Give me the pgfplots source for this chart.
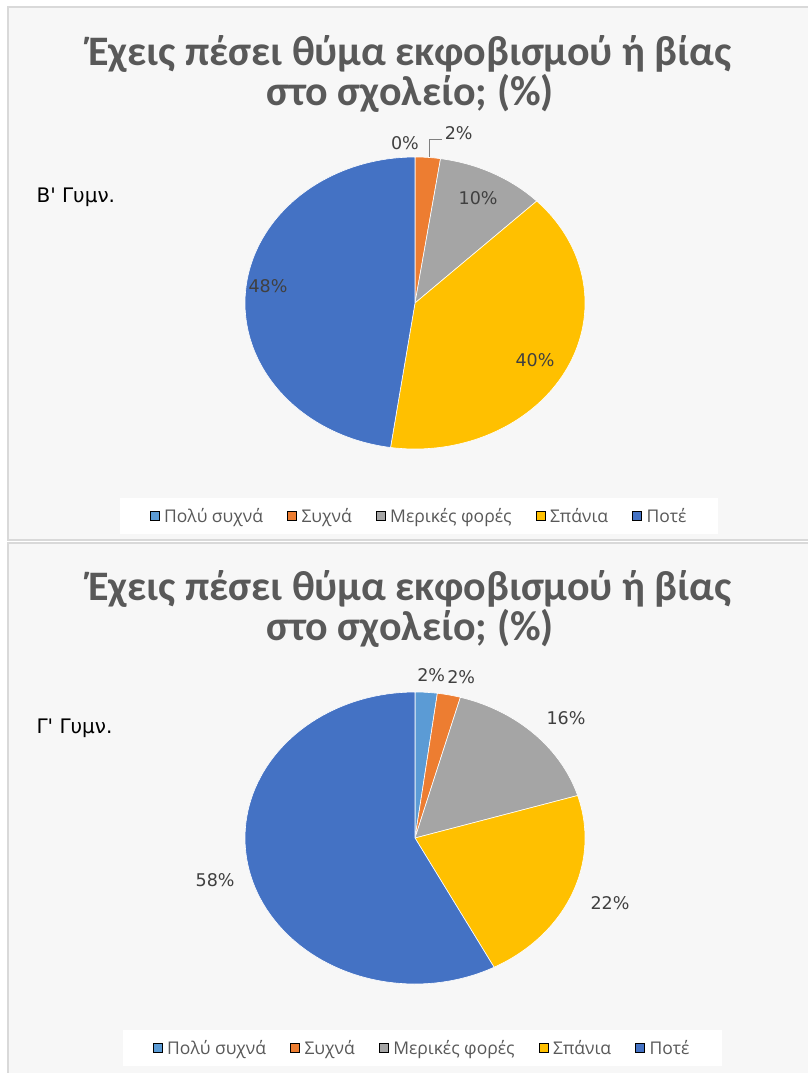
\documentclass[border=0pt]{standalone}
\usepackage{fontspec}
\setmainfont{Carlito}
\newfontfamily\lblfont{DejaVu Sans}
\newfontfamily\legfont{Open Sans}
\usepackage{pgfplots}
\pgfplotsset{compat=1.18}
\definecolor{c1}{HTML}{5B9BD5}
\definecolor{c2}{HTML}{ED7D31}
\definecolor{c3}{HTML}{A5A5A5}
\definecolor{c4}{HTML}{FFC000}
\definecolor{c5}{HTML}{4472C4}
\definecolor{tgray}{HTML}{595959}
\definecolor{lgray}{HTML}{404040}
\definecolor{bord}{HTML}{D9D9D9}
\definecolor{bg}{HTML}{F7F7F7}
% slice: start percent, end percent (cumulative), colour
\newcommand{\slice}[3]{%
  \addplot[forget plot, fill=#3, draw=white, line width=0.6pt,
    domain={3.6*#1}:{3.6*#2}, samples=90]
    ({sin(x)},{cos(x)}) -- (axis cs:0,0) -- cycle;}
\pgfplotsset{
  pieaxis/.style={
    scale only axis, width=340pt, height=292pt,
    xmin=-1, xmax=1, ymin=-1, ymax=1, hide axis, clip=false,
    anchor=center,
    legend columns=5,
    legend image code/.code={\fill[##1] (0pt,-4.5pt) rectangle (9pt,4.5pt);},
    legend style={draw=none, fill=white, anchor=center,
      font=\legfont\fontsize{17.5}{19}\selectfont, text=tgray,
      inner xsep=30pt, inner ysep=8pt,
      nodes={inner xsep=2pt},
      /tikz/every odd column/.append style={column sep=3pt},
      /tikz/every even column/.append style={column sep=22pt}},
  },
}
\tikzset{lbl/.style={font=\lblfont\fontsize{17.5}{20}\selectfont, text=lgray}}
\begin{document}
\begin{tikzpicture}
\useasboundingbox (0,0) rectangle (808pt,-1073pt);
\fill[white] (0,0) rectangle (808pt,-1073pt);
\draw[bord, line width=2pt, fill=bg] (8pt,-7pt) rectangle (830pt,-540pt);
\draw[bord, line width=2pt, fill=bg] (8pt,-543pt) rectangle (830pt,-1090pt);
% titles
\node[font=\bfseries\fontsize{42}{38}\selectfont, text=tgray, align=center]
  at (410pt,-74pt) {Έχεις πέσει θύμα εκφοβισμού ή βίας\\στο σχολείο; (\%)};
\node[font=\bfseries\fontsize{42}{38}\selectfont, text=tgray, align=center]
  at (410pt,-609pt) {Έχεις πέσει θύμα εκφοβισμού ή βίας\\στο σχολείο; (\%)};
\node[font=\lblfont\fontsize{20}{22}\selectfont, text=black, anchor=west]
  at (33pt,-197pt) {Β' Γυμν.};
\node[font=\lblfont\fontsize{20}{22}\selectfont, text=black, anchor=west]
  at (33pt,-728pt) {Γ' Γυμν.};
% ---------- B' Gymn.  values: 0, 2.4, 10.3, 39.6, 47.7
\begin{axis}[pieaxis, at={(415pt,-303pt)},
  legend style={at={(0.512,-0.230)}}]
  \slice{0}{2.4}{c2}
  \slice{2.4}{12.7}{c3}
  \slice{12.7}{52.3}{c4}
  \slice{52.3}{100}{c5}
  \addlegendimage{fill=c1}\addlegendentry{Πολύ συχνά}
  \addlegendimage{fill=c2}\addlegendentry{Συχνά}
  \addlegendimage{fill=c3}\addlegendentry{Μερικές φορές}
  \addlegendimage{fill=c4}\addlegendentry{Σπάνια}
  \addlegendimage{fill=c5}\addlegendentry{Ποτέ}
  \draw[gray, line width=0.6pt] (axis cs:0.159,1.123) -- (axis cs:0.082,1.123) -- (axis cs:0.082,1.0);
  \node[lbl] at (axis cs:-0.059,1.096) {0\%};
  \node[lbl] at (axis cs:0.257,1.164) {2\%};
  \node[lbl] at (axis cs:0.371,0.719) {10\%};
  \node[lbl] at (axis cs:0.706,-0.390) {40\%};
  \node[lbl] at (axis cs:-0.865,0.116) {48\%};
\end{axis}
% ---------- G' Gymn.  values: 2.1, 2.2, 16.0, 22.0, 57.7
\begin{axis}[pieaxis, at={(415pt,-838pt)},
  legend style={at={(0.521,-0.219)}}]
  \slice{0}{2.1}{c1}
  \slice{2.1}{4.3}{c2}
  \slice{4.3}{20.3}{c3}
  \slice{20.3}{42.3}{c4}
  \slice{42.3}{100}{c5}
  \addlegendimage{fill=c1}\addlegendentry{Πολύ συχνά}
  \addlegendimage{fill=c2}\addlegendentry{Συχνά}
  \addlegendimage{fill=c3}\addlegendentry{Μερικές φορές}
  \addlegendimage{fill=c4}\addlegendentry{Σπάνια}
  \addlegendimage{fill=c5}\addlegendentry{Ποτέ}
  \node[lbl] at (axis cs:0.095,1.116) {2\%};
  \node[lbl] at (axis cs:0.272,1.103) {2\%};
  \node[lbl] at (axis cs:0.888,0.822) {16\%};
  \node[lbl] at (axis cs:1.147,-0.445) {22\%};
  \node[lbl] at (axis cs:-1.176,-0.288) {58\%};
\end{axis}
\end{tikzpicture}
\end{document}
